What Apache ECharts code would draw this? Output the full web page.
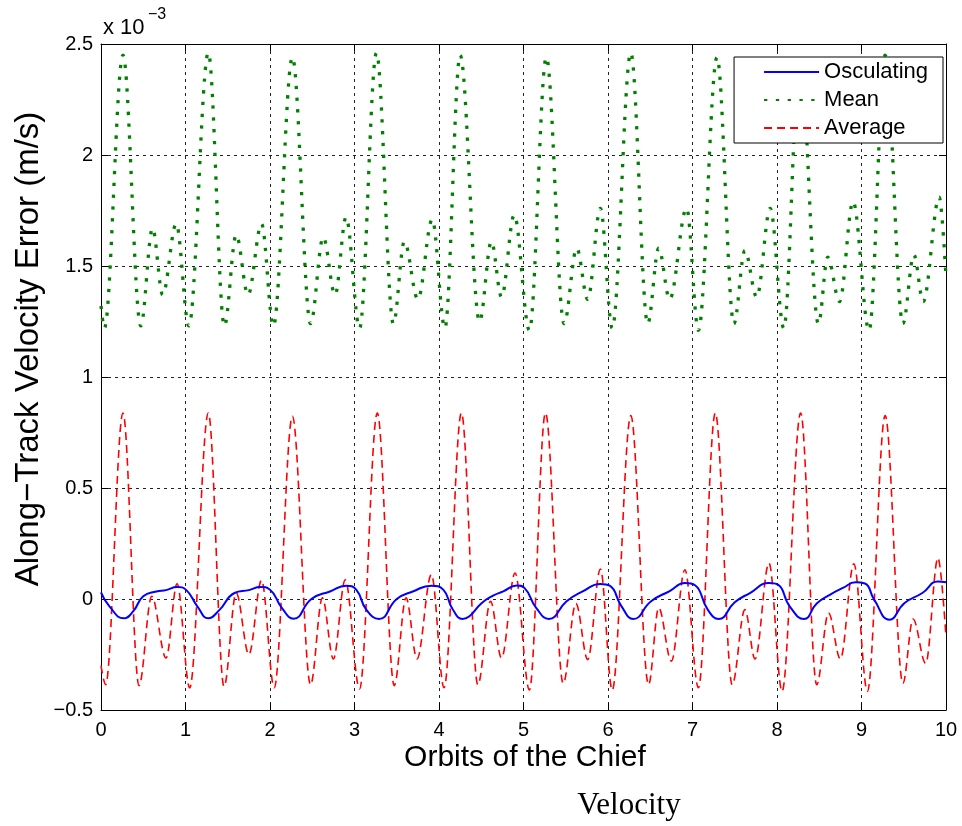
<!DOCTYPE html>
<html>
<head>
<meta charset="utf-8">
<script src="https://cdn.jsdelivr.net/npm/echarts@6/dist/echarts.min.js"></script>
<style>
  html, body { margin: 0; padding: 0; background: #fff; }
  #chart { width: 962px; height: 826px; }
</style>
</head>
<body>
<div id="chart"></div>
<script>
// Along-track velocity error (units of 1e-3 m/s) versus orbits of the chief.
var xTicks = [0, 1, 2, 3, 4, 5, 6, 7, 8, 9, 10];
var yTicks = [-0.5, 0, 0.5, 1, 1.5, 2, 2.5];

// Osculating
var oscT = [0.00, 0.10, 0.27, 0.38, 0.50, 0.655, 0.77, 0.90, 1.01, 1.14, 1.27, 1.40, 1.58, 1.75, 1.886, 2.00, 2.14, 2.28,
  2.49, 2.71, 2.90, 3.02, 3.14, 3.29, 3.50, 3.69, 3.91, 4.05, 4.16, 4.28, 4.36, 4.50, 4.64, 4.76, 4.92, 5.01, 5.15, 5.30,
  5.51, 5.70, 5.91, 6.02, 6.16, 6.30, 6.51, 6.73, 6.91, 7.03, 7.18, 7.31, 7.50, 7.68, 7.905, 8.01, 8.15, 8.32, 8.47, 8.63,
  8.78, 8.93, 9.04, 9.15, 9.33, 9.51, 9.72, 9.905, 10.00];
var oscV = [0.030, -0.033, -0.087, -0.056, 0.012, 0.034, 0.040, 0.054, 0.040, -0.033, -0.087, -0.050, 0.027, 0.040, 0.054, 0.042, -0.040, -0.089,
  0.000, 0.034, 0.060, 0.042, -0.048, -0.090, 0.000, 0.034, 0.060, 0.042, -0.045, -0.090, -0.078, -0.020, 0.015, 0.034, 0.061, 0.050, -0.040, -0.090,
  -0.010, 0.034, 0.068, 0.060, -0.033, -0.090, -0.010, 0.036, 0.072, 0.062, -0.048, -0.090, -0.015, 0.027, 0.072, 0.065, -0.033, -0.090, -0.020, 0.020,
  0.050, 0.075, 0.070, -0.003, -0.093, -0.018, 0.027, 0.079, 0.075];

// Mean
var meanT = [0.00, 0.04, 0.26, 0.47, 0.61, 0.73, 0.89, 1.04, 1.27, 1.46, 1.60, 1.74, 1.90, 2.04, 2.265, 2.48, 2.63, 2.77, 2.90,
  3.06, 3.26, 3.46, 3.59, 3.75, 3.92, 4.07, 4.25, 4.48, 4.62, 4.74, 4.89, 5.07, 5.27, 5.48, 5.63, 5.76, 5.91, 6.05, 6.27,
  6.47, 6.60, 6.73, 6.93, 7.07, 7.29, 7.49, 7.62, 7.76, 7.92, 8.08, 8.27, 8.49, 8.60, 8.74, 8.90, 9.09, 9.28, 9.49, 9.62,
  9.73, 9.92, 10.00];
var meanV = [1.32, 1.22, 2.45, 1.23, 1.67, 1.37, 1.69, 1.23, 2.46, 1.23, 1.64, 1.37, 1.69, 1.23, 2.44, 1.24, 1.63, 1.37, 1.72,
  1.22, 2.46, 1.24, 1.61, 1.35, 1.71, 1.22, 2.45, 1.25, 1.61, 1.36, 1.73, 1.21, 2.44, 1.24, 1.58, 1.35, 1.76, 1.22, 2.46,
  1.24, 1.58, 1.35, 1.76, 1.21, 2.44, 1.24, 1.57, 1.36, 1.76, 1.22, 2.45, 1.24, 1.54, 1.34, 1.79, 1.21, 2.45, 1.24, 1.55,
  1.34, 1.81, 1.45];

// Average
var avgT = [0.00, 0.055, 0.26, 0.45, 0.60, 0.77, 0.90, 1.05, 1.27, 1.456, 1.60, 1.75, 1.90, 2.05, 2.265, 2.48, 2.62, 2.75, 2.89,
  3.06, 3.27, 3.47, 3.61, 3.74, 3.91, 4.06, 4.265, 4.46, 4.61, 4.74, 4.90, 5.07, 5.26, 5.47, 5.62, 5.76, 5.91, 6.05, 6.27,
  6.48, 6.60, 6.75, 6.91, 7.07, 7.27, 7.47, 7.62, 7.74, 7.905, 8.06, 8.28, 8.47, 8.61, 8.75, 8.91, 9.07, 9.28, 9.49, 9.61,
  9.76, 9.905, 10.00];
var avgV = [-0.30, -0.386, 0.838, -0.39, 0.012, -0.266, 0.069, -0.40, 0.838, -0.394, 0.027, -0.25, 0.084, -0.40, 0.823, -0.386, 0.005, -0.27, 0.087,
  -0.405, 0.838, -0.39, 0.005, -0.27, 0.11, -0.40, 0.838, -0.386, -0.01, -0.266, 0.117, -0.41, 0.838, -0.38, -0.02, -0.273, 0.135, -0.41, 0.826,
  -0.386, -0.04, -0.28, 0.132, -0.40, 0.838, -0.386, -0.048, -0.27, 0.162, -0.416, 0.838, -0.386, -0.063, -0.27, 0.159, -0.416, 0.826, -0.38, -0.09,
  -0.29, 0.185, -0.17];

function pairs(t, v) {
  return t.map(function (x, i) { return [x, v[i]]; });
}

var FONT = 'Liberation Sans, Arial, Helvetica, sans-serif';
var gridDash = [3, 4];

var chart = echarts.init(document.getElementById('chart'), null, { renderer: 'canvas' });

function fmtTick(v) {
  return String(v).replace('-', '\u2212');
}

function boxAxis(extra) {
  var base = {
    axisLine: { show: true, onZero: false, lineStyle: { color: '#000', width: 1 } },
    axisTick: { show: true, inside: true, length: 7, lineStyle: { color: '#000' } }
  };
  return Object.assign(base, extra);
}

var option = {
  animation: false,
  backgroundColor: '#ffffff',
  grid: { left: 101, right: 16, top: 44, bottom: 116, show: false },
  legend: {
    orient: 'vertical',
    right: 19,
    top: 57,
    padding: [4, 15, 4, 29],
    itemWidth: 55,
    itemHeight: 14,
    itemGap: 6,
    backgroundColor: '#ffffff',
    borderColor: '#000000',
    borderWidth: 1,
    borderRadius: 0,
    itemStyle: { opacity: 0 },
    textStyle: { fontFamily: FONT, fontSize: 22, color: '#000' },
    data: ['Osculating', 'Mean', 'Average']
  },
  xAxis: [boxAxis({
    type: 'value', min: xTicks[0], max: xTicks[xTicks.length - 1], interval: 1,
    axisLabel: { fontFamily: FONT, fontSize: 20, color: '#000', margin: 10, formatter: fmtTick },
    splitLine: { show: true, lineStyle: { color: '#222', width: 1, type: gridDash } }
  }), boxAxis({
    type: 'value', position: 'top', min: xTicks[0], max: xTicks[xTicks.length - 1], interval: 1,
    axisLabel: { show: false },
    splitLine: { show: false }
  })],
  yAxis: [boxAxis({
    type: 'value', min: yTicks[0], max: yTicks[yTicks.length - 1], interval: 0.5,
    axisLabel: { fontFamily: FONT, fontSize: 20, color: '#000', margin: 8, formatter: fmtTick },
    splitLine: { show: true, lineStyle: { color: '#222', width: 1, type: gridDash } }
  }), boxAxis({
    type: 'value', position: 'right', min: yTicks[0], max: yTicks[yTicks.length - 1], interval: 0.5,
    axisLabel: { show: false },
    splitLine: { show: false }
  })],
  graphic: [
    { type: 'text', left: 103, top: 17,
      style: { text: 'x 10', fontFamily: FONT, fontSize: 22, fill: '#000' } },
    { type: 'text', left: 148, top: 7,
      style: { text: '\u22123', fontFamily: FONT, fontSize: 16, fill: '#000' } },
    { type: 'text', x: 29, y: 349, rotation: Math.PI / 2,
      style: { text: 'Along\u2212Track Velocity Error (m/s)', fontFamily: FONT, fontSize: 33, fill: '#000',
        align: 'center', verticalAlign: 'middle' } },
    { type: 'text', x: 525, y: 758,
      style: { text: 'Orbits of the Chief', fontFamily: FONT, fontSize: 30, fill: '#000',
        align: 'center', verticalAlign: 'middle' } },
    { type: 'text', x: 629, y: 806,
      style: { text: 'Velocity', fontFamily: 'Liberation Serif, DejaVu Serif, serif', fontSize: 31, fill: '#000',
        align: 'center', verticalAlign: 'middle' } }
  ],
  series: [{
    name: 'Osculating', type: 'line', data: pairs(oscT, oscV),
    symbol: 'none', smooth: 0.5, z: 4,
    lineStyle: { color: '#0000ff', width: 2 },
    itemStyle: { color: '#0000ff' }
  }, {
    name: 'Mean', type: 'line', data: pairs(meanT, meanV),
    symbol: 'none', smooth: 0.35, smoothMonotone: 'x', z: 3,
    lineStyle: { color: '#008000', width: 3.3, type: [3.3, 8.5], cap: 'butt' },
    itemStyle: { color: '#008000' }
  }, {
    name: 'Average', type: 'line', data: pairs(avgT, avgV),
    symbol: 'none', smooth: 0.35, smoothMonotone: 'x', z: 2,
    lineStyle: { color: '#ff0000', width: 1.6, type: [8, 5] },
    itemStyle: { color: '#ff0000' }
  }]
};

chart.setOption(option);
</script>
</body>
</html>
